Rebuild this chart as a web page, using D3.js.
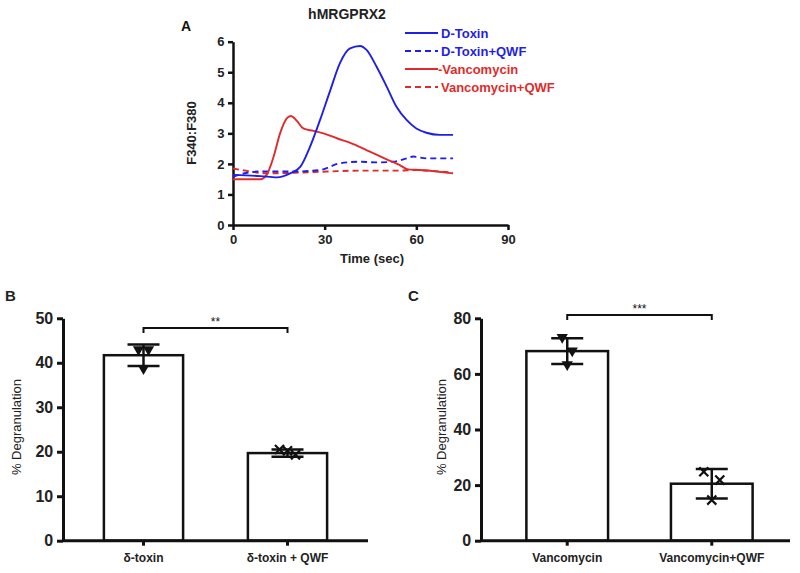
<!DOCTYPE html>
<html><head><meta charset="utf-8">
<script src="https://cdn.jsdelivr.net/npm/d3@7"></script>
<style>body{margin:0;background:#fff}svg{display:block}text{font-family:"Liberation Sans",Arial,sans-serif}</style>
</head><body>
<svg id="c" width="800" height="573"></svg>
<script>
// ---- Panel A data ----
const timeTicks = [0, 30, 60, 90];
const ratioTicks = [0, 1, 2, 3, 4, 5, 6];
const dtoxin = [[0,1.64],[9,1.6],[14.4,1.56],[18.7,1.69],[22,1.9],[25.2,2.56],[28.5,3.44],[31.8,4.4],[35,5.3],[38.3,5.78],[41.6,5.86],[43.7,5.73],[47,5.18],[50.3,4.53],[53.5,3.87],[56.8,3.44],[60,3.16],[63.3,3.02],[67.7,2.95],[72,2.95]];
const dtoxinQWF = [[0,1.58],[4.6,1.71],[9,1.75],[19.8,1.75],[28.5,1.8],[35,2.02],[41.6,2.07],[47,2.05],[52.4,2.07],[56.8,2.18],[59,2.24],[63.3,2.18],[72,2.18]];
const vanco = [[0,1.5],[9,1.5],[11,1.64],[13.3,2.24],[15.4,3.0],[17.6,3.49],[18.9,3.57],[20.9,3.41],[23,3.16],[26.3,3.08],[29.6,3.0],[34,2.84],[39.4,2.65],[44.8,2.4],[50.3,2.15],[54.6,1.96],[57.3,1.82],[61.2,1.8],[66.6,1.75],[72,1.69]];
const vancoQWF = [[0,1.85],[4.6,1.77],[11,1.69],[19.8,1.71],[30.7,1.75],[41.6,1.78],[54.6,1.78],[59,1.8],[72,1.71]];
const seriesNames = ["D-Toxin", "D-Toxin+QWF", "-Vancomycin", "Vancomycin+QWF"];
const seriesColors = ["#1f1fe6", "#1f1fe6", "#e02b2b", "#e02b2b"];
const seriesDash = [null, "6,4", null, "6,4"];

// ---- Panel B data ----
const catsB = ["δ-toxin", "δ-toxin + QWF"];
const meansB = [41.7, 19.7];
const sdB = [2.4, 0.8];
const pointsB = [[43.0, 43.0, 38.7], [20.5, 19.3, 20.2]];
const ticksB = [0, 10, 20, 30, 40, 50];

// ---- Panel C data ----
const catsC = ["Vancomycin", "Vancomycin+QWF"];
const meansC = [68.2, 20.5];
const sdC = [4.6, 5.3];
const pointsC = [[73.2, 68.3, 63.4], [24.8, 21.8, 14.6]];
const ticksC = [0, 20, 40, 60, 80];

const svg = d3.select("#c");
const FONT = '"Liberation Sans",Arial,sans-serif';

// ===== Panel A =====
{
  const x = d3.scaleLinear().domain([0, 90]).range([233, 508]);
  const y = d3.scaleLinear().domain([0, 6]).range([225, 41.7]);
  const g = svg.append("g");
  const xa = g.append("g").attr("transform", "translate(0,225)")
    .call(d3.axisBottom(x).tickValues(timeTicks).tickFormat(d3.format("d")).tickSize(5).tickSizeOuter(0));
  const ya = g.append("g").attr("transform", "translate(233,0)")
    .call(d3.axisLeft(y).tickValues(ratioTicks).tickFormat(d3.format("d")).tickSize(5).tickSizeOuter(0));
  [xa, ya].forEach(a => {
    a.selectAll("path,line").attr("stroke", "#111").attr("stroke-width", 2.5);
    a.selectAll("text").attr("font-family", FONT).attr("font-weight", "bold").attr("font-size", 13).attr("fill", "#222");
  });
  xa.selectAll("text").attr("dy", "0.85em");
  ya.selectAll("text").attr("dx", "-0.05em");
  const line = d3.line().x(d => x(d[0])).y(d => y(d[1])).curve(d3.curveMonotoneX);
  const all = [dtoxin, dtoxinQWF, vanco, vancoQWF];
  [3, 1, 2, 0].forEach(i => {
    g.append("path").datum(all[i]).attr("d", line).attr("fill", "none")
      .attr("stroke", seriesColors[i]).attr("stroke-width", 1.9)
      .attr("stroke-dasharray", seriesDash[i]);
  });
  g.append("text").attr("x", 347).attr("y", 19).attr("text-anchor", "middle")
    .attr("font-weight", "bold").attr("font-size", 14).attr("fill", "#222").text("hMRGPRX2");
  g.append("text").attr("x", 181).attr("y", 31).attr("font-weight", "bold").attr("font-size", 14).attr("fill", "#111").text("A");
  g.append("text").attr("transform", "translate(196,133) rotate(-90)").attr("text-anchor", "middle")
    .attr("font-weight", "bold").attr("font-size", 13).attr("fill", "#222").text("F340:F380");
  g.append("text").attr("x", 372).attr("y", 263).attr("text-anchor", "middle")
    .attr("font-weight", "bold").attr("font-size", 13).attr("fill", "#222").text("Time (sec)");
  const legY = [33, 51, 69, 87];
  seriesNames.forEach((n, i) => {
    g.append("line").attr("x1", 405).attr("x2", 438).attr("y1", legY[i]).attr("y2", legY[i])
      .attr("stroke", seriesColors[i]).attr("stroke-width", 1.9).attr("stroke-dasharray", seriesDash[i]);
    g.append("text").attr("x", i === 2 ? 438 : 441).attr("y", legY[i] + 5).attr("font-weight", "bold")
      .attr("font-size", 13).attr("fill", seriesColors[i]).text(n);
  });
}

// ===== Bar panels =====
function barPanel(opt) {
  const g = svg.append("g");
  const y = d3.scaleLinear().domain([0, opt.max]).range([540.7, 318.3]);
  const x = d3.scaleBand().domain(opt.cats).range([opt.x0, opt.x1]).paddingInner(opt.pin).paddingOuter(opt.pout);
  opt.cats.forEach((c, i) => {
    g.append("rect").attr("x", x(c)).attr("y", y(opt.means[i])).attr("width", x.bandwidth())
      .attr("height", y(0) - y(opt.means[i])).attr("fill", "#fff").attr("stroke", "#111").attr("stroke-width", 2.5);
  });
  const xa = g.append("g").attr("transform", `translate(0,${y(0)})`)
    .call(d3.axisBottom(x).tickSize(5).tickSizeOuter(0));
  xa.select(".domain").attr("d", `M${opt.x0},0H${opt.xEnd}`);
  const ya = g.append("g").attr("transform", `translate(${opt.x0},0)`)
    .call(d3.axisLeft(y).tickValues(opt.ticks).tickFormat(d3.format("d")).tickSize(6).tickSizeOuter(0));
  [xa, ya].forEach(a => a.selectAll("path,line").attr("stroke", "#111").attr("stroke-width", 3));
  ya.selectAll("text").attr("font-family", FONT).attr("font-weight", "bold").attr("font-size", 16).attr("fill", "#222").attr("dx", "-0.05em");
  xa.selectAll("text").attr("font-family", FONT).attr("font-weight", "bold").attr("font-size", 12).attr("fill", "#222").attr("dy", "1.1em");
  opt.cats.forEach((c, i) => {
    const cx = x(c) + x.bandwidth() / 2;
    const hi = y(opt.means[i] + opt.sd[i]), lo = y(opt.means[i] - opt.sd[i]);
    g.append("line").attr("x1", cx).attr("x2", cx).attr("y1", hi).attr("y2", lo).attr("stroke", "#111").attr("stroke-width", 2.5);
    [hi, lo].forEach(yy => g.append("line").attr("x1", cx - 16).attr("x2", cx + 16).attr("y1", yy).attr("y2", yy)
      .attr("stroke", "#111").attr("stroke-width", 2.5));
    const offs = [-5, 5, 0];
    opt.points[i].forEach((v, k) => {
      const px = cx + offs[k] * (i === 0 ? 1 : 1.6);
      if (i === 0) {
        g.append("path").attr("d", d3.symbol(d3.symbolTriangle, 55)())
          .attr("transform", `translate(${px},${y(v)}) rotate(180)`).attr("fill", "#111");
      } else {
        g.append("path").attr("d", d3.symbol(d3.symbolTimes, 55)())
          .attr("transform", `translate(${px},${y(v)})`).attr("fill", "none").attr("stroke", "#111").attr("stroke-width", 2.2);
      }
    });
  });
  const c0 = x(opt.cats[0]) + x.bandwidth() / 2, c1 = x(opt.cats[1]) + x.bandwidth() / 2;
  g.append("path").attr("d", `M${c0},${opt.brY + 5}V${opt.brY}H${c1}V${opt.brY + 5}`)
    .attr("fill", "none").attr("stroke", "#111").attr("stroke-width", 2);
  g.append("text").attr("x", (c0 + c1) / 2).attr("y", opt.brY - 2).attr("text-anchor", "middle")
    .attr("font-size", 12).attr("fill", "#111").text(opt.stars);
  g.append("text").attr("transform", `translate(${opt.labX},427) rotate(-90)`).attr("text-anchor", "middle")
    .attr("font-size", 13).attr("fill", "#222").text("% Degranulation");
  g.append("text").attr("x", opt.letX).attr("y", 301).attr("font-weight", "bold").attr("font-size", 15).attr("fill", "#222").text(opt.letter);
}

barPanel({cats: catsB, means: meansB, sd: sdB, points: pointsB, ticks: ticksB, max: 50,
  x0: 63, x1: 368, xEnd: 368, pin: 0.45, pout: 0.284, brY: 328, stars: "**", labX: 21, letX: 5, letter: "B"});
barPanel({cats: catsC, means: meansC, sd: sdC, points: pointsC, ticks: ticksC, max: 80,
  x0: 481, x1: 798, xEnd: 790, pin: 0.435, pout: 0.314, brY: 315, stars: "***", labX: 446, letX: 408, letter: "C"});
</script>
</body></html>
